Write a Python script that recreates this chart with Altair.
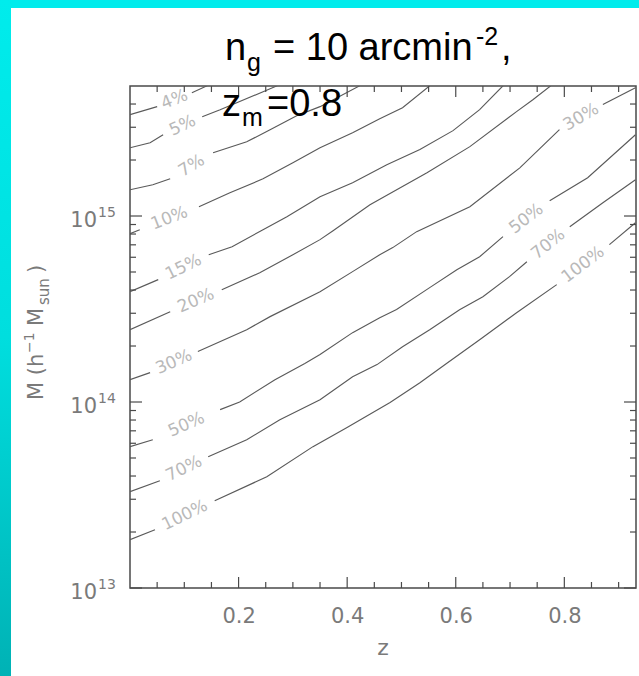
import math
import altair as alt
import pandas as pd

# ---------------- data ----------------
# contour levels (fraction of clusters), z and log10(M) along each contour
z_100 = [0.000, 0.046, 0.156, 0.252, 0.337, 0.399, 0.479, 0.534, 0.583, 0.644, 0.712, 0.786, 0.883, 0.931]
lm_100 = [13.260, 13.313, 13.469, 13.598, 13.760, 13.862, 13.997, 14.104, 14.207, 14.335, 14.480, 14.631, 14.846, 14.964]
gap_100 = [1, 11]

z_70 = [0.000, 0.055, 0.144, 0.215, 0.276, 0.350, 0.410, 0.455, 0.502, 0.552, 0.607, 0.650, 0.699, 0.731, 0.810, 0.871, 0.931]
lm_70 = [13.518, 13.577, 13.706, 13.797, 13.905, 14.012, 14.136, 14.201, 14.297, 14.389, 14.496, 14.566, 14.674, 14.754, 14.942, 15.071, 15.195]
gap_70 = [1, 13]

z_50 = [0.000, 0.042, 0.166, 0.202, 0.267, 0.322, 0.350, 0.410, 0.460, 0.491, 0.552, 0.602, 0.644, 0.687, 0.773, 0.843, 0.931]
lm_50 = [13.760, 13.797, 13.959, 14.000, 14.120, 14.207, 14.255, 14.373, 14.453, 14.497, 14.615, 14.711, 14.781, 14.889, 15.082, 15.206, 15.437]
gap_50 = [1, 13]

z_30 = [0.000, 0.037, 0.125, 0.215, 0.258, 0.350, 0.410, 0.460, 0.484, 0.528, 0.626, 0.718, 0.791, 0.871, 0.931]
lm_30 = [14.120, 14.158, 14.271, 14.389, 14.459, 14.593, 14.701, 14.792, 14.830, 14.916, 15.050, 15.259, 15.464, 15.599, 15.690]
gap_30 = [1, 12]

z_20 = [0.000, 0.074, 0.169, 0.239, 0.300, 0.350, 0.374, 0.442, 0.547, 0.626, 0.712, 0.742, 0.775]
lm_20 = [14.389, 14.485, 14.604, 14.695, 14.792, 14.873, 14.921, 15.061, 15.233, 15.373, 15.561, 15.625, 15.700]
gap_20 = [1]

z_15 = [0.000, 0.052, 0.145, 0.188, 0.245, 0.289, 0.350, 0.410, 0.473, 0.534, 0.595, 0.644, 0.687]
lm_15 = [14.593, 14.658, 14.792, 14.835, 14.926, 14.996, 15.104, 15.179, 15.276, 15.357, 15.459, 15.572, 15.700]
gap_15 = [1]

z_10 = [0.000, 0.018, 0.127, 0.184, 0.245, 0.300, 0.350, 0.410, 0.460, 0.502, 0.552]
lm_10 = [14.905, 14.926, 15.050, 15.125, 15.200, 15.286, 15.367, 15.448, 15.523, 15.582, 15.700]
gap_10 = [1]

z_7 = [0.000, 0.042, 0.074, 0.153, 0.215, 0.258, 0.307, 0.350, 0.423]
lm_7 = [15.141, 15.168, 15.200, 15.340, 15.399, 15.464, 15.539, 15.588, 15.700]
gap_7 = [2]

z_5 = [0.000, 0.037, 0.061, 0.133, 0.166, 0.271]
lm_5 = [15.367, 15.394, 15.437, 15.534, 15.571, 15.700]
gap_5 = [2]

z_4 = [0.000, 0.050, 0.114, 0.142]
lm_4 = [15.545, 15.588, 15.663, 15.700]
gap_4 = [1]

levels = ["100%", "70%", "50%", "30%", "20%", "15%", "10%", "7%", "5%", "4%"]

# axes
x_major = [0.2, 0.4, 0.6, 0.8]
x_minor = [0.05, 0.1, 0.15, 0.25, 0.3, 0.35, 0.45, 0.5, 0.55, 0.65, 0.7, 0.75, 0.85, 0.9]
y_major = [1e13, 1e14, 1e15]
y_exp = ["13", "14", "15"]
y_minor = [2e13, 3e13, 4e13, 5e13, 6e13, 7e13, 8e13, 9e13,
           2e14, 3e14, 4e14, 5e14, 6e14, 7e14, 8e14, 9e14,
           2e15, 3e15, 4e15]

# ---------------- layout ----------------
W, H = 506, 502
Z_MAX = 0.932
M_MIN, M_MAX = 1e13, 5e15
LM_MIN, LM_MAX = math.log10(M_MIN), math.log10(M_MAX)
GRAY = "#7a7a7a"
LINE = "#5a5a5a"
LABEL = "#b9b9b9"
AXC = "#4a4a4a"
FONT = "DejaVu Sans"
TFONT = "Liberation Sans"

contours = [
    ("100%", z_100, lm_100, gap_100), ("70%", z_70, lm_70, gap_70),
    ("50%", z_50, lm_50, gap_50), ("30%", z_30, lm_30, gap_30),
    ("20%", z_20, lm_20, gap_20), ("15%", z_15, lm_15, gap_15),
    ("10%", z_10, lm_10, gap_10), ("7%", z_7, lm_7, gap_7),
    ("5%", z_5, lm_5, gap_5), ("4%", z_4, lm_4, gap_4),
]

rows, lab_rows = [], []
for name, zs, lms, gaps in contours:
    seg = 0
    for i, (z, lm) in enumerate(zip(zs, lms)):
        rows.append({"level": name, "seg": f"{name}-{seg}", "i": i, "z": z, "M": 10 ** lm})
        if i in gaps:
            z0, z1, l0, l1 = zs[i], zs[i + 1], lms[i], lms[i + 1]
            dxp = (z1 - z0) / Z_MAX * W
            dyp = -(l1 - l0) / (LM_MAX - LM_MIN) * H
            ang = math.degrees(math.atan2(dyp, dxp)) % 360
            lab_rows.append({"text": name, "z": (z0 + z1) / 2, "M": 10 ** ((l0 + l1) / 2), "ang": ang})
            seg += 1

cdf = pd.DataFrame(rows)
ldf = pd.DataFrame(lab_rows)

xs = alt.Scale(domain=[0, Z_MAX], nice=False, zero=False)
ys = alt.Scale(type="log", domain=[M_MIN, M_MAX], nice=False)
x_axis = alt.Axis(values=x_major, format=".1f", title=None, ticks=False, tickSize=0, domain=False,
                  grid=False, labelFont=FONT, labelFontSize=21, labelColor=GRAY, labelPadding=17,
                  labelBaseline="top")

one = pd.DataFrame({"a": [0]})

# decoration: slide background bands
top_band = alt.Chart(one).mark_rect(color="#00ecec").encode(
    x=alt.value(-130), x2=alt.value(W + 3), y=alt.value(-86), y2=alt.value(-78))
left_band = alt.Chart(one).mark_rect(
    color=alt.Gradient(gradient="linear",
                       stops=[alt.GradientStop(color="#00ecec", offset=0),
                              alt.GradientStop(color="#00dede", offset=0.5),
                              alt.GradientStop(color="#00b2b5", offset=1)],
                       x1=0, x2=0, y1=0, y2=1)).encode(
    x=alt.value(-130), x2=alt.value(-119), y=alt.value(-86), y2=alt.value(H + 88))

lines = alt.Chart(cdf).mark_line(color=LINE, strokeWidth=1.15, clip=True).encode(
    x=alt.X("z:Q", scale=xs, axis=x_axis),
    y=alt.Y("M:Q", scale=ys, axis=None),
    detail="seg:N",
    order="i:Q",
)

labels = alt.Chart(ldf).mark_text(font=FONT, fontSize=17, color=LABEL, align="center",
                                  baseline="middle").encode(
    x=alt.X("z:Q", scale=xs, axis=x_axis),
    y=alt.Y("M:Q", scale=ys, axis=None),
    text="text:N",
    angle=alt.Angle("ang:Q", scale=None),
)

# inward ticks on all four sides
xmaj = pd.DataFrame({"z": x_major})
xmin = pd.DataFrame({"z": x_minor})
ymaj = pd.DataFrame({"M": y_major, "exp": y_exp})
ymin = pd.DataFrame({"M": y_minor})


def xticks(df, ln):
    b = alt.Chart(df).mark_rule(color=AXC, strokeWidth=1.2).encode(
        x=alt.X("z:Q", scale=xs, axis=x_axis), y=alt.value(H), y2=alt.value(H - ln))
    t = alt.Chart(df).mark_rule(color=AXC, strokeWidth=1.2).encode(
        x=alt.X("z:Q", scale=xs, axis=x_axis), y=alt.value(0), y2=alt.value(ln))
    return [b, t]


def yticks(df, ln):
    l = alt.Chart(df).mark_rule(color=AXC, strokeWidth=1.2).encode(
        y=alt.Y("M:Q", scale=ys, axis=None), x=alt.value(0), x2=alt.value(ln))
    r = alt.Chart(df).mark_rule(color=AXC, strokeWidth=1.2).encode(
        y=alt.Y("M:Q", scale=ys, axis=None), x=alt.value(W), x2=alt.value(W - ln))
    return [l, r]


tick_layers = xticks(xmaj, 11) + xticks(xmin, 6) + yticks(ymaj, 12) + yticks(ymin, 6)

ylab10 = alt.Chart(ymaj).mark_text(font=FONT, fontSize=21, color=GRAY, align="right",
                                   baseline="alphabetic", dy=11).encode(
    x=alt.value(-33), y=alt.Y("M:Q", scale=ys, axis=None), text=alt.value("10"))
ylabexp = alt.Chart(ymaj).mark_text(font=FONT, fontSize=14, color=GRAY, align="left",
                                    baseline="alphabetic", dy=1).encode(
    x=alt.value(-32), y=alt.Y("M:Q", scale=ys, axis=None), text="exp:N")


def txt(s, x, y, size, color, font, angle=0, align="left"):
    kw = dict(font=font, fontSize=size, color=color, align=align, baseline="alphabetic")
    if angle:
        kw["angle"] = angle
    return alt.Chart(one).mark_text(**kw).encode(x=alt.value(x), y=alt.value(y), text=alt.value(s))


texts = [
    # x-axis title
    txt("z", 253, 569, 22, GRAY, FONT, align="center"),
    # y-axis title (rotated)
    txt("M (h", -87, 314, 21, GRAY, FONT, angle=270),
    txt("\u22121", -96, 267, 14, GRAY, FONT, angle=270),
    txt("M", -87, 240, 21, GRAY, FONT, angle=270),
    txt("sun", -81, 219, 15, GRAY, FONT, angle=270),
    txt(")", -87, 187, 21, GRAY, FONT, angle=270),
    # big annotation
    txt("n", 95, -26, 38, "#000000", TFONT),
    txt("g", 117, -15, 25, "#000000", TFONT),
    txt("= 10 arcmin", 143, -26, 38, "#000000", TFONT),
    txt("-2", 346, -41, 25, "#000000", TFONT),
    txt(",", 371, -26, 38, "#000000", TFONT),
    txt("z", 92, 30, 38, "#000000", TFONT),
    txt("m", 112, 40, 25, "#000000", TFONT),
    txt("=0.8", 137, 30, 38, "#000000", TFONT),
]

chart = alt.layer(
    top_band, left_band, lines, labels, *tick_layers, ylab10, ylabexp, *texts
).properties(
    width=W, height=H,
    autosize=alt.AutoSizeParams(type="none"),
    padding={"left": 130, "top": 86, "right": 3, "bottom": 88},
    background="#ffffff",
).configure_view(stroke=AXC, strokeWidth=1.5)

chart.save("out.html", embed_options={"renderer": "svg", "actions": False})
